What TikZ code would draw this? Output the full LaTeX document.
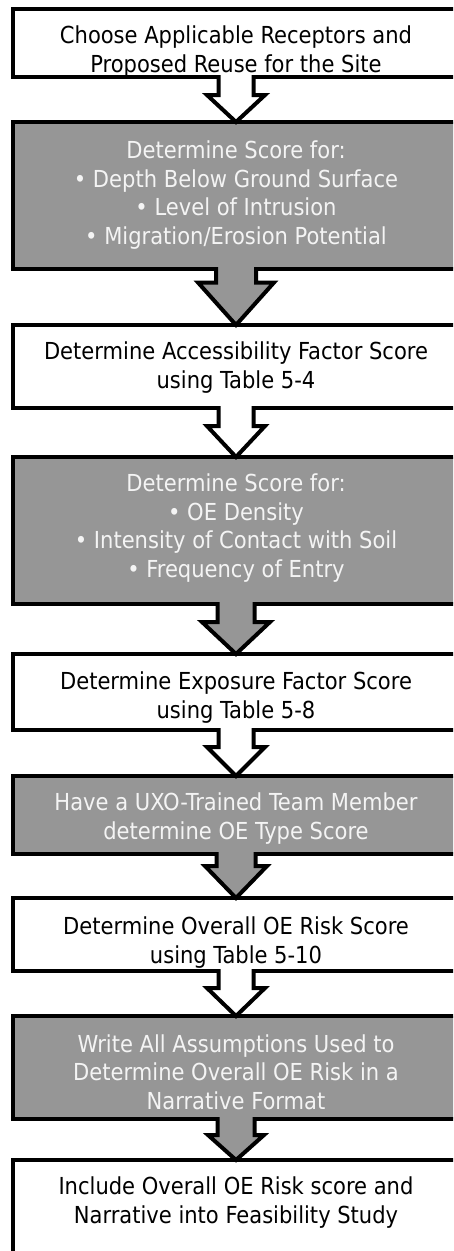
\documentclass[tikz,border=0pt]{standalone}
\usepackage{fontspec}
\setmainfont{DejaVu Sans Condensed}
\usetikzlibrary{calc}
\definecolor{boxgray}{HTML}{969696}
\definecolor{lighttext}{HTML}{F4F4F4}
\tikzset{
  box/.style={draw=black, line width=4pt, rectangle, minimum width=480pt, inner sep=0pt, outer sep=0pt},
  whitebox/.style={box, fill=white},
  graybox/.style={box, fill=boxgray},
  txt/.style={align=center, anchor=base, inner sep=0pt, font=\fontsize{23.4}{28.5}\selectfont},
  darktxt/.style={txt, text=black},
  lighttxt/.style={txt, text=lighttext},
  arrowbox/.style={draw=black, line width=4pt, line join=miter}
}
% block arrow from box #1 to box #2, centred 223pt right of the boxes' left edge
\newcommand\blockarrow[6]{%
  \filldraw[arrowbox, fill=#6]
    ($(#1.south west)+(223-#3,-2)$) -- ($(#1.south west)+(223-#3,#5)$) -- ($(#1.south west)+(223-#4,#5)$)
    -- ($(#2.north west)+(223,0)$)
    -- ($(#1.south west)+(223+#4,#5)$) -- ($(#1.south west)+(223+#3,#5)$) -- ($(#1.south west)+(223+#3,-2)$);}
\begin{document}
\begin{tikzpicture}[x=1pt,y=-1pt]
\useasboundingbox (0,0) rectangle (453,1251);
\clip (0,0) rectangle (453,1251);
\fill[white] (0,0) rectangle (453,1251);
% boxes (left edge at 13, right edge beyond the picture)
\node[whitebox, minimum height=68pt,  anchor=west] (b1) at (13,43) {};
\node[graybox,  minimum height=147pt, anchor=west] (b2) at (13,195.5) {};
\node[whitebox, minimum height=83pt,  anchor=west] (b3) at (13,366.5) {};
\node[graybox,  minimum height=147pt, anchor=west] (b4) at (13,530.5) {};
\node[whitebox, minimum height=76pt,  anchor=west] (b5) at (13,692) {};
\node[graybox,  minimum height=78pt,  anchor=west] (b6) at (13,815) {};
\node[whitebox, minimum height=73pt,  anchor=west] (b7) at (13,934.5) {};
\node[graybox,  minimum height=103pt, anchor=west] (b8) at (13,1067.5) {};
\node[whitebox, minimum height=110pt, anchor=west] (b9) at (13,1215) {};
% arrows
\blockarrow{b1}{b2}{17.5}{29}{18}{white}
\blockarrow{b2}{b3}{20}{38}{13.5}{boxgray}
\blockarrow{b3}{b4}{17.5}{29}{18}{white}
\blockarrow{b4}{b5}{18.5}{34}{18}{boxgray}
\blockarrow{b5}{b6}{17.5}{29}{17}{white}
\blockarrow{b6}{b7}{19.5}{31}{12}{boxgray}
\blockarrow{b7}{b8}{17.5}{29}{17}{white}
\blockarrow{b8}{b9}{18.5}{28}{16}{boxgray}
% texts
\node[darktxt]  (t1) at (236,72)   {Choose Applicable Receptors and\\Proposed Reuse for the Site};
\node[lighttxt] (t2) at (236,244)  {Determine Score for:\\• Depth Below Ground Surface\\• Level of Intrusion\\• Migration/Erosion Potential};
\node[darktxt]  (t3) at (236,388)  {Determine Accessibility Factor Score\\using Table 5-4};
\node[lighttxt] (t4) at (236,577)  {Determine Score for:\\• OE Density\\• Intensity of Contact with Soil\\• Frequency of Entry};
\node[darktxt]  (t5) at (236,718)  {Determine Exposure Factor Score\\using Table 5-8};
\node[lighttxt] (t6) at (236,839)  {Have a UXO-Trained Team Member\\determine OE Type Score};
\node[darktxt]  (t7) at (236,963)  {Determine Overall OE Risk Score\\using Table 5-10};
\node[lighttxt] (t8) at (236,1109) {Write All Assumptions Used to\\Determine Overall OE Risk in a\\Narrative Format};
\node[darktxt]  (t9) at (236,1223) {Include Overall OE Risk score and\\Narrative into Feasibility Study};
\end{tikzpicture}
\end{document}
